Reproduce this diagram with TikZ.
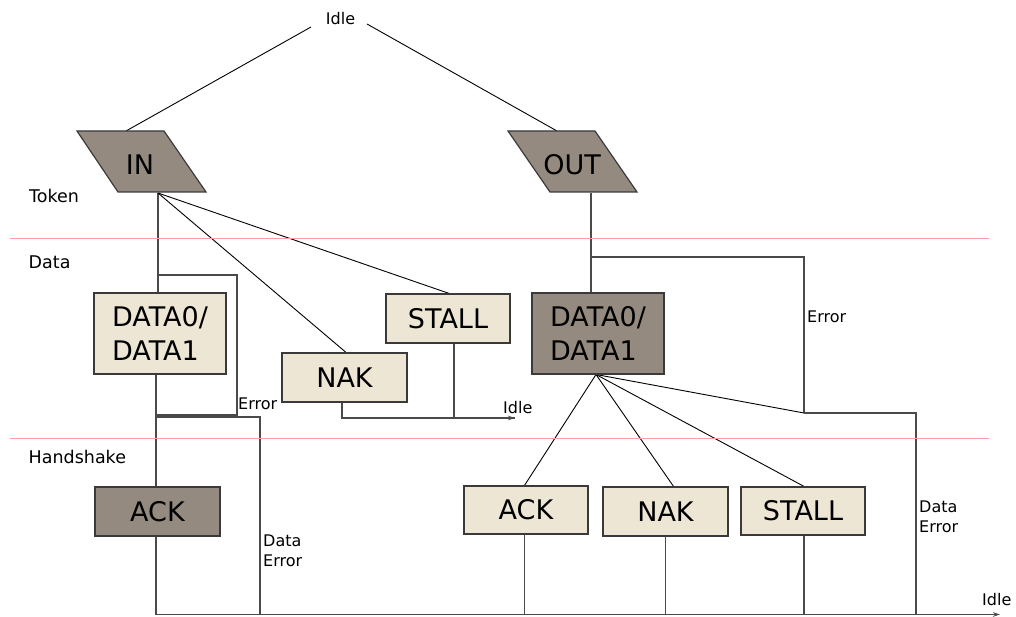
\documentclass[tikz,border=0pt]{standalone}
\usepackage{fontspec}
\setmainfont{DejaVu Sans}
\usetikzlibrary{arrows.meta,backgrounds}

\definecolor{tokdark}{HTML}{948A7F}
\definecolor{pktlight}{HTML}{EDE6D5}
\definecolor{boxedge}{HTML}{3A3A3A}
\definecolor{orthwire}{HTML}{4A4A4A}
\definecolor{layerline}{HTML}{FF9E9E}

\tikzset{
  pktbox/.style={draw=boxedge, line width=1.2pt, inner sep=0pt,
                 font=\fontsize{27}{34}\selectfont},
  lightbox/.style={pktbox, fill=pktlight},
  darkbox/.style={pktbox, fill=tokdark},
  tokshape/.style={draw=boxedge, line width=1.2pt, fill=tokdark},
  boxtext/.style={inner sep=0pt, font=\fontsize{27}{34}\selectfont},
  wire/.style={draw=black, line width=0.9pt},
  owire/.style={draw=orthwire, line width=1.3pt},
  lane/.style={draw=layerline, line width=1pt},
  lbl/.style={inner sep=0pt, font=\fontsize{16}{20}\selectfont},
  layer/.style={inner sep=0pt, font=\fontsize{17.5}{21}\selectfont},
  tip/.style={-{Stealth[length=7pt,width=4.5pt,fill=black]}}
}

\begin{document}
\begin{tikzpicture}[x=1pt,y=-1pt]
\useasboundingbox (0,0) rectangle (1016,617);

% phase separators and phase names
\draw[lane] (10,239) -- (989,239);
\draw[lane] (10,438) -- (989,438);
\node[layer, anchor=base west] (lToken) at (29,203) {Token};
\node[layer, anchor=base west] (lData) at (28.5,269) {Data};
\node[layer, anchor=base west] (lHand) at (28.5,463) {Handshake};

% idle state at the top
\node[lbl, anchor=base] (idleTop) at (340.5,25) {Idle};
\coordinate (idleTopL) at (311,27);
\coordinate (idleTopR) at (367,24);

% token packets (parallelograms)
\coordinate (inTL) at (77,131);  \coordinate (inTR) at (164,131);
\coordinate (inBR) at (206,192); \coordinate (inBL) at (118,192);
\filldraw[tokshape] (inTL) -- (inTR) -- (inBR) -- (inBL) -- cycle;
\node[boxtext] (in) at (140,165) {IN};
\coordinate (inTop) at (126,131);
\coordinate (inBot) at (158,193);

\coordinate (outTL) at (508,131);  \coordinate (outTR) at (595,131);
\coordinate (outBR) at (637,192); \coordinate (outBL) at (550,192);
\filldraw[tokshape] (outTL) -- (outTR) -- (outBR) -- (outBL) -- cycle;
\node[boxtext] (out) at (572,165) {OUT};
\coordinate (outTop) at (557,131);
\coordinate (outBot) at (591,193);

% data and handshake packets
\node[lightbox, minimum width=132pt, minimum height=81pt, align=left] (dataL) at (160,333.5) {DATA0/\\DATA1};
\node[lightbox, minimum width=125pt, minimum height=49pt] (nakL) at (344.5,377.5) {NAK};
\node[lightbox, minimum width=124pt, minimum height=49pt] (stallL) at (448,318.5) {STALL};
\node[darkbox, minimum width=125pt, minimum height=49pt] (ackL) at (157.5,511.5) {ACK};

\node[darkbox, minimum width=132pt, minimum height=81pt, align=left] (dataR) at (598,333.5) {DATA0/\\DATA1};
\node[lightbox, minimum width=124pt, minimum height=48pt] (ackR) at (526,510) {ACK};
\node[lightbox, minimum width=125pt, minimum height=49pt] (nakR) at (665.5,511.5) {NAK};
\node[lightbox, minimum width=124pt, minimum height=48pt] (stallR) at (803,511) {STALL};

% free ends and bends
\coordinate (busL) at (156,614.5);
\coordinate (busR) at (1000,614.5);
\coordinate (idleMidEnd) at (515,418);
\coordinate (errInTap) at (158,275);
\coordinate (errInCorner) at (237,275);
\coordinate (errInJoin) at (237,415);
\coordinate (derrInTap) at (156,417);
\coordinate (derrInCorner) at (260,417);
\coordinate (errOutTap) at (591,257);
\coordinate (errOutCorner) at (804,257);
\coordinate (errOutJoin) at (804,413);
\coordinate (derrOutCorner) at (916,413);
\coordinate (fanR) at (596,374.5);

% labels on the connectors (base of a two-line label is its last line)
\node[lbl, anchor=base west] (errIn) at (238,409) {Error};
\node[lbl, anchor=base west] (idleMid) at (503,413) {Idle};
\node[lbl, anchor=base west, align=left] (derrIn) at (263,566.5) {Data\\Error};
\node[lbl, anchor=base west] (errOut) at (807,322.5) {Error};
\node[lbl, anchor=base west, align=left] (derrOut) at (919,532) {Data\\Error};
\node[lbl, anchor=base west] (idleBot) at (982,605) {Idle};

\begin{scope}[on background layer]
  % from idle to the token packets
  \draw[wire] (idleTopL) -- (inTop);
  \draw[wire] (idleTopR) -- (outTop);

  % IN transaction
  \draw[owire] (inBot) -- (inBot |- dataL.north);
  \draw[wire] (inBot) -- ([xshift=1.5pt]nakL.north);
  \draw[wire] (inBot) -- ([xshift=1pt]stallL.north);
  \draw[owire] (errInTap) -- (errInCorner) -- (errInJoin) -- (errInJoin -| derrInTap);
  \draw[owire] ([xshift=-2.5pt]nakL.south) |- (idleMidEnd);
  \draw[owire, tip] ([xshift=-2.5pt]nakL.south |- idleMidEnd) -- (idleMidEnd);
  \draw[owire] ([xshift=6pt]stallL.south) -- ([xshift=6pt]stallL.south |- idleMidEnd);
  \draw[owire] (derrInTap |- dataL.south) -- (busL);
  \draw[owire] (derrInTap) -- (derrInCorner) -- (derrInCorner |- busL);

  % OUT transaction
  \draw[owire] (outBot) -- (outBot |- dataR.north);
  \draw[owire] (errOutTap) -- (errOutCorner) -- (errOutJoin);
  \draw[wire] (fanR) -- ([xshift=-1.5pt]ackR.north);
  \draw[wire] (fanR) -- ([xshift=8pt]nakR.north);
  \draw[wire] (fanR) -- ([xshift=1pt]stallR.north);
  \draw[wire] (fanR) -- (errOutJoin);
  \draw[owire] (errOutJoin) -- (derrOutCorner) -- (derrOutCorner |- busL);
  \draw[owire] ([xshift=-1.5pt]ackR.south) -- ([xshift=-1.5pt]ackR.south |- busL);
  \draw[owire] (nakR.south) -- (nakR.south |- busL);
  \draw[owire] ([xshift=1pt]stallR.south) -- ([xshift=1pt]stallR.south |- busL);

  % common return to idle
  \draw[owire, tip] (busL) -- (busR);
\end{scope}
\end{tikzpicture}
\end{document}
